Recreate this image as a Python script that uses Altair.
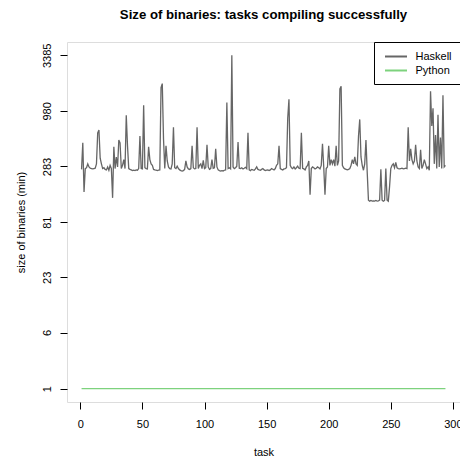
import altair as alt
import pandas as pd

# task index 1..294
tasks = list(range(1, 295))

# size of binaries (min) for Haskell
haskell_sizes = [
    265, 480, 160, 270, 275, 300, 280, 272, 270, 268,
    270, 272, 300, 600, 640, 340, 300, 270, 275, 265,
    262, 280, 260, 290, 270, 140, 440, 270, 350, 280,
    510, 480, 270, 290, 330, 270, 890, 450, 270, 265,
    262, 258, 260, 258, 262, 260, 270, 560, 270, 268,
    1110, 275, 270, 268, 440, 330, 300, 290, 265, 262,
    260, 258, 260, 262, 1650, 1800, 520, 270, 450, 320,
    280, 270, 268, 300, 680, 275, 270, 285, 270, 262,
    258, 255, 258, 265, 320, 280, 268, 265, 270, 450,
    275, 268, 270, 680, 270, 290, 300, 270, 325, 270,
    275, 460, 280, 265, 270, 330, 272, 275, 420, 280,
    262, 258, 255, 258, 256, 260, 262, 1180, 270, 275,
    268, 3385, 280, 270, 275, 285, 490, 272, 270, 275,
    268, 272, 278, 270, 600, 262, 258, 265, 262, 260,
    268, 280, 265, 262, 260, 265, 270, 262, 258, 260,
    262, 258, 262, 270, 266, 262, 270, 290, 300, 450,
    270, 265, 262, 268, 270, 275, 830, 1270, 290, 275,
    270, 280, 268, 275, 285, 272, 270, 600, 272, 268,
    262, 280, 290, 320, 150, 270, 280, 275, 268, 272,
    280, 275, 268, 290, 470, 280, 150, 270, 280, 450,
    290, 330, 300, 330, 285, 450, 290, 320, 1600, 1700,
    290, 275, 268, 265, 262, 265, 270, 290, 330, 300,
    350, 300, 290, 560, 810, 350, 290, 260, 300, 510,
    250, 133, 130, 132, 130, 131, 130, 132, 130, 131,
    133, 265, 133, 130, 132, 270, 133, 130, 180, 270,
    290, 300, 275, 310, 275, 270, 268, 270, 272, 268,
    270, 272, 270, 680, 320, 420, 330, 300, 320, 460,
    320, 280, 270, 410, 270, 290, 330, 300, 270, 280,
    260, 1520, 700, 1040, 300, 570, 270, 900, 280, 540,
    270, 1390, 280, 290,
]

# size of binaries (min) for Python: flat at 1
python_sizes = [
    1, 1, 1, 1, 1, 1, 1, 1, 1, 1,  1, 1, 1, 1, 1, 1, 1, 1, 1, 1,
    1, 1, 1, 1, 1, 1, 1, 1, 1, 1,  1, 1, 1, 1, 1, 1, 1, 1, 1, 1,
    1, 1, 1, 1, 1, 1, 1, 1, 1, 1,  1, 1, 1, 1, 1, 1, 1, 1, 1, 1,
    1, 1, 1, 1, 1, 1, 1, 1, 1, 1,  1, 1, 1, 1, 1, 1, 1, 1, 1, 1,
    1, 1, 1, 1, 1, 1, 1, 1, 1, 1,  1, 1, 1, 1, 1, 1, 1, 1, 1, 1,
    1, 1, 1, 1, 1, 1, 1, 1, 1, 1,  1, 1, 1, 1, 1, 1, 1, 1, 1, 1,
    1, 1, 1, 1, 1, 1, 1, 1, 1, 1,  1, 1, 1, 1, 1, 1, 1, 1, 1, 1,
    1, 1, 1, 1, 1, 1, 1, 1, 1, 1,  1, 1, 1, 1, 1, 1, 1, 1, 1, 1,
    1, 1, 1, 1, 1, 1, 1, 1, 1, 1,  1, 1, 1, 1, 1, 1, 1, 1, 1, 1,
    1, 1, 1, 1, 1, 1, 1, 1, 1, 1,  1, 1, 1, 1, 1, 1, 1, 1, 1, 1,
    1, 1, 1, 1, 1, 1, 1, 1, 1, 1,  1, 1, 1, 1, 1, 1, 1, 1, 1, 1,
    1, 1, 1, 1, 1, 1, 1, 1, 1, 1,  1, 1, 1, 1, 1, 1, 1, 1, 1, 1,
    1, 1, 1, 1, 1, 1, 1, 1, 1, 1,  1, 1, 1, 1, 1, 1, 1, 1, 1, 1,
    1, 1, 1, 1, 1, 1, 1, 1, 1, 1,  1, 1, 1, 1, 1, 1, 1, 1, 1, 1,
    1, 1, 1, 1, 1, 1, 1, 1, 1, 1,  1, 1, 1, 1,
]

languages = ["Haskell", "Python"]
colors = ["#666666", "#7dd27d"]
x_ticks = [0, 50, 100, 150, 200, 250, 300]
y_ticks = [1, 6, 23, 81, 283, 980, 3385]

rows = []
for t, v in zip(tasks, haskell_sizes):
    rows.append({"task": t, "size": v, "lang": "Haskell"})
for t, v in zip(tasks, python_sizes):
    rows.append({"task": t, "size": v, "lang": "Python"})
df = pd.DataFrame(rows)

FONT = "Liberation Sans"
W = 393
H = 360

chart = alt.Chart(df).mark_line(strokeWidth=1.3).encode(
    x=alt.X(
        "task:Q",
        scale=alt.Scale(domain=[-10.72, 305.72], nice=False, zero=False),
        axis=alt.Axis(
            values=x_ticks, title="task", format="d",
            domain=False, grid=False, ticks=True, tickSize=7, tickColor="black", tickWidth=1,
            labelFont=FONT, labelFontSize=11, labelColor="black", labelPadding=9,
            labelBaseline="top", labelFlush=False, labelOverlap=False,
            titleFont=FONT, titleFontSize=11, titleFontWeight="normal", titleColor="black",
            titleX=W / 2, titleY=53, titleBaseline="alphabetic", titleAlign="center",
        ),
    ),
    y=alt.Y(
        "size:Q",
        scale=alt.Scale(type="symlog", constant=1, domain=[0.486, 4557], nice=False, zero=False),
        axis=alt.Axis(
            values=y_ticks, title="size of binaries (min)", format="d",
            domain=False, grid=False, ticks=True, tickSize=7, tickColor="black", tickWidth=1,
            labelFont=FONT, labelFontSize=11, labelColor="black", labelPadding=10,
            labelAngle=270, labelAlign="center", labelBaseline="alphabetic",
            labelFlush=False, labelOverlap=False,
            titleFont=FONT, titleFontSize=11, titleFontWeight="normal", titleColor="black",
            titleAngle=270, titleX=-43, titleY=H / 2, titleBaseline="alphabetic", titleAlign="center",
        ),
    ),
    color=alt.Color(
        "lang:N",
        scale=alt.Scale(domain=languages, range=colors),
        legend=alt.Legend(
            title=None, orient="none", legendX=W - 86, legendY=0,
            symbolType="M-2,0L2,0", symbolSize=121, symbolStrokeWidth=2,
            symbolOffset=7.5,
            labelFont=FONT, labelFontSize=11, labelColor="black", labelOffset=13,
            padding=8, rowPadding=2, strokeColor="black", fillColor="white",
            cornerRadius=0,
        ),
    ),
).properties(
    width=W,
    height=H,
    title=alt.TitleParams(
        "Size of binaries: tasks compiling successfully",
        font=FONT, fontSize=13.2, fontWeight="bold", color="black",
        anchor="middle", baseline="alphabetic", offset=9,
    ),
    autosize=alt.AutoSizeParams(type="none"),
    padding={"left": 59, "top": 34, "right": 0, "bottom": 56},
).configure_view(
    stroke="black", strokeWidth=1
).configure(background="white")

chart.save("out.html", embed_options={"renderer": "svg", "actions": False})
